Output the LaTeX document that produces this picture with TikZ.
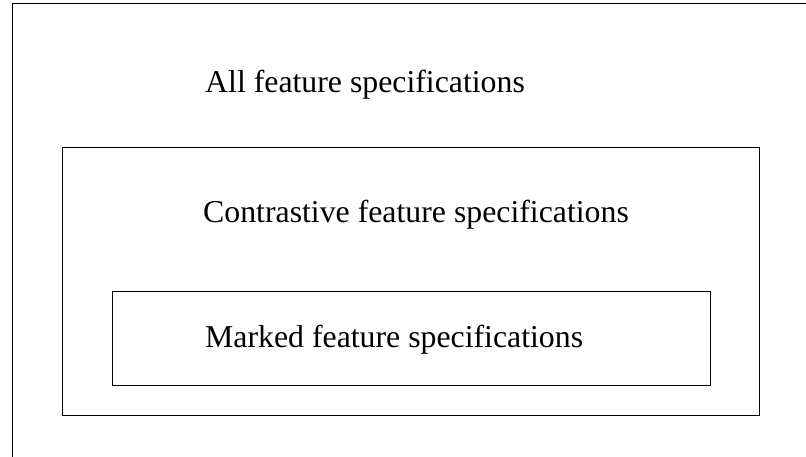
\documentclass[tikz,border=0pt]{standalone}
\usepackage{fontspec}
\setmainfont{Liberation Serif}
\usepackage{tikz}

\tikzset{
  box/.style={draw, line width=1pt, inner sep=0pt, anchor=north west},
  lbl/.style={inner sep=0pt, anchor=base west, font=\fontsize{31.8}{36}\selectfont}
}

\begin{document}
\begin{tikzpicture}[x=1pt, y=-1pt]
                \useasboundingbox (0,0) rectangle (806,456);
                \clip (0,0) rectangle (806,456);
                \node[box, minimum width=820pt, minimum height=470pt] (all) at (11.5,3) {};
                \node[box, minimum width=696.5pt, minimum height=268pt] (contrastive) at (62,147) {};
                \node[box, minimum width=598pt, minimum height=94pt] (marked) at (112.3,291.3) {};
                \node[lbl] (alltext) at (205,92) {All feature specifications};
                \node[lbl] (contrtext) at (203,222) {Contrastive feature specifications};
                \node[lbl] (markedtext) at (205,347) {Marked feature specifications};
            \end{tikzpicture}
\end{document}
